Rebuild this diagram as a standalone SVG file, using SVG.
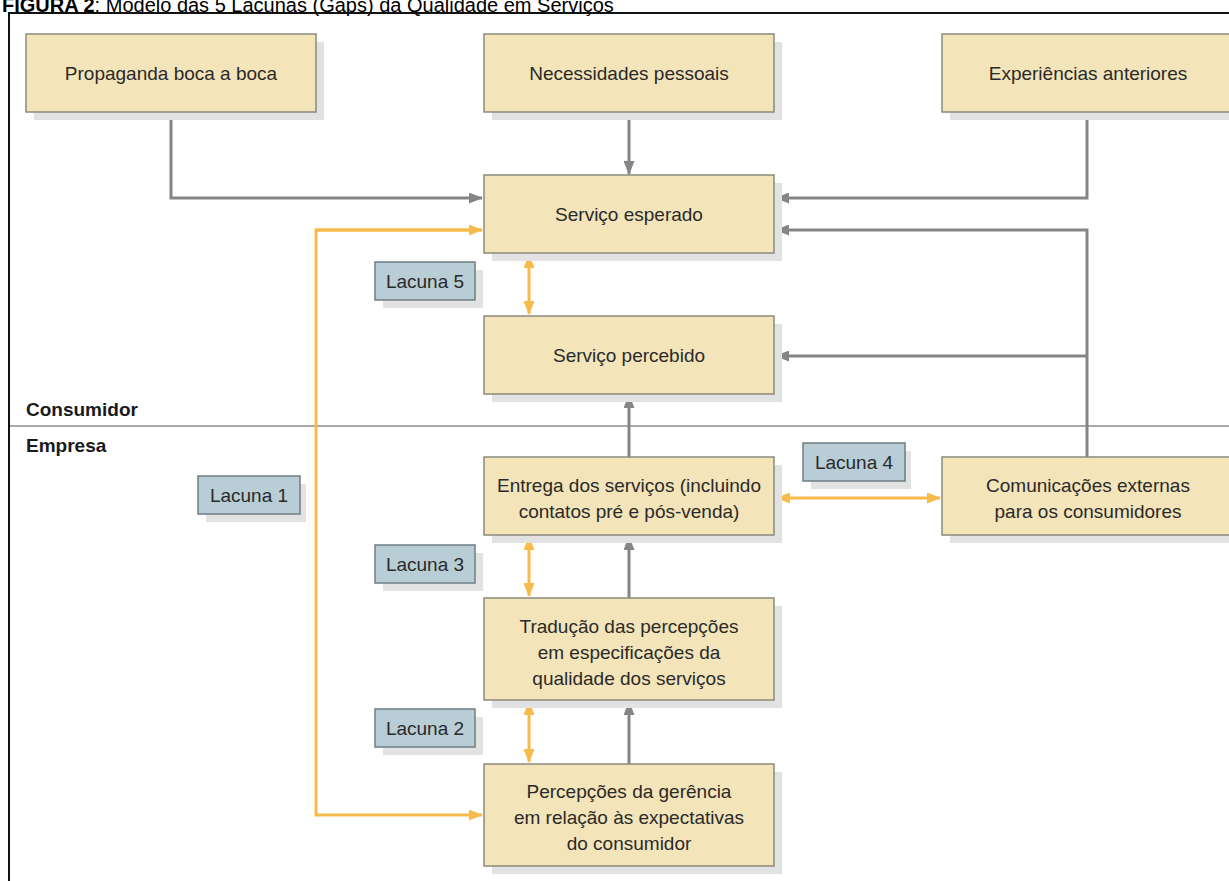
<svg xmlns="http://www.w3.org/2000/svg" width="1229" height="881" viewBox="0 0 1229 881">
<defs>
<style>
.box{fill:#f3e4b9;stroke:#8c8a7c;stroke-width:1.5}
.sh{fill:#e2e2e2}
.lac{fill:#b8cdd5;stroke:#6e7d82;stroke-width:1.5}
.t{font-family:"Liberation Sans",Arial,sans-serif;font-size:19px;fill:#2a2a2a;text-anchor:middle}
.sec{font-family:"Liberation Sans",Arial,sans-serif;font-size:19px;font-weight:bold;fill:#1a1a1a}
.g{fill:none;stroke:#858585;stroke-width:3}
.o{fill:none;stroke:#f9ba4c;stroke-width:3}
</style>
<marker id="ag" viewBox="0 0 14 11" refX="13" refY="5.5" markerWidth="14" markerHeight="11" markerUnits="userSpaceOnUse" orient="auto"><path d="M0,0 L14,5.5 L0,11 Z" fill="#858585"/></marker>
<marker id="ao" viewBox="0 0 14 11" refX="13" refY="5.5" markerWidth="14" markerHeight="11" markerUnits="userSpaceOnUse" orient="auto"><path d="M0,0 L14,5.5 L0,11 Z" fill="#f9ba4c"/></marker>
<marker id="aos" viewBox="0 0 14 11" refX="13" refY="5.5" markerWidth="14" markerHeight="11" markerUnits="userSpaceOnUse" orient="auto-start-reverse"><path d="M0,0 L14,5.5 L0,11 Z" fill="#f9ba4c"/></marker>
</defs>
<rect width="1229" height="881" fill="#ffffff"/>
<text x="2" y="12" font-family="Liberation Sans,Arial,sans-serif" font-size="20" fill="#000"><tspan font-weight="bold">FIGURA 2</tspan>: Modelo das 5 Lacunas (Gaps) da Qualidade em Serviços</text>
<path d="M9,890 V13 H1240" fill="none" stroke="#111" stroke-width="2"/>
<line x1="10" y1="426" x2="1229" y2="426" stroke="#a8a8a8" stroke-width="2"/>
<text class="sec" x="26" y="416">Consumidor</text>
<text class="sec" x="26" y="452">Empresa</text>
<g id="connectors">
<path class="g" d="M171,112 V198 H482" marker-end="url(#ag)"/>
<path class="g" d="M629,112 V174" marker-end="url(#ag)"/>
<path class="g" d="M1087,112 V198 H776" marker-end="url(#ag)"/>
<path class="g" d="M1087,457 V230 H776" marker-end="url(#ag)"/>
<path class="g" d="M1087,356 H776" marker-end="url(#ag)"/>
<path class="g" d="M629,457 V395" marker-end="url(#ag)"/>
<path class="g" d="M629,598 V537" marker-end="url(#ag)"/>
<path class="g" d="M629,764 V702" marker-end="url(#ag)"/>
<path class="o" d="M482,230 H316 V815 H482" marker-end="url(#ao)"/>
<path class="o" d="M316,230 H482" marker-end="url(#ao)"/>
<path class="o" d="M529,255 V314" marker-start="url(#aos)" marker-end="url(#ao)"/>
<path class="o" d="M529,537 V596" marker-start="url(#aos)" marker-end="url(#ao)"/>
<path class="o" d="M529,702 V762" marker-start="url(#aos)" marker-end="url(#ao)"/>
<path class="o" d="M777,498 H940" marker-start="url(#aos)" marker-end="url(#ao)"/>
</g>
<g id="n-propaganda"><rect class="sh" x="34" y="42" width="290" height="78"/><rect class="box" x="26" y="34" width="290" height="78"/><text class="t" x="171" y="80">Propaganda boca a boca</text></g>
<g id="n-necessidades"><rect class="sh" x="492" y="42" width="290" height="78"/><rect class="box" x="484" y="34" width="290" height="78"/><text class="t" x="629" y="80">Necessidades pessoais</text></g>
<g id="n-experiencias"><rect class="sh" x="950" y="42" width="290" height="78"/><rect class="box" x="942" y="34" width="292" height="78"/><text class="t" x="1088" y="80">Experiências anteriores</text></g>
<g id="n-esperado"><rect class="sh" x="492" y="183" width="290" height="78"/><rect class="box" x="484" y="175" width="290" height="78"/><text class="t" x="629" y="221">Serviço esperado</text></g>
<g id="n-percebido"><rect class="sh" x="492" y="324" width="290" height="78"/><rect class="box" x="484" y="316" width="290" height="78"/><text class="t" x="629" y="362">Serviço percebido</text></g>
<g id="n-entrega"><rect class="sh" x="492" y="465" width="290" height="78"/><rect class="box" x="484" y="457" width="290" height="78"/><text class="t" x="629" y="492">Entrega dos serviços (incluindo</text><text class="t" x="629" y="518">contatos pré e pós-venda)</text></g>
<g id="n-comunicacoes"><rect class="sh" x="950" y="465" width="290" height="78"/><rect class="box" x="942" y="457" width="292" height="78"/><text class="t" x="1088" y="492">Comunicações externas</text><text class="t" x="1088" y="518">para os consumidores</text></g>
<g id="n-traducao"><rect class="sh" x="492" y="606" width="290" height="102"/><rect class="box" x="484" y="598" width="290" height="102"/><text class="t" x="629" y="633">Tradução das percepções</text><text class="t" x="629" y="659">em especificações da</text><text class="t" x="629" y="685">qualidade dos serviços</text></g>
<g id="n-gerencia"><rect class="sh" x="492" y="772" width="290" height="102"/><rect class="box" x="484" y="764" width="290" height="102"/><text class="t" x="629" y="798">Percepções da gerência</text><text class="t" x="629" y="824">em relação às expectativas</text><text class="t" x="629" y="850">do consumidor</text></g>
<g id="lacuna-5"><rect class="sh" x="383" y="270" width="100" height="38"/><rect class="lac" x="375" y="262" width="100" height="38"/><text class="t" x="425" y="288">Lacuna 5</text></g>
<g id="lacuna-1"><rect class="sh" x="206" y="484" width="100" height="38"/><rect class="lac" x="198" y="476" width="102" height="38"/><text class="t" x="249" y="502">Lacuna 1</text></g>
<g id="lacuna-4"><rect class="sh" x="811" y="451" width="100" height="38"/><rect class="lac" x="803" y="443" width="102" height="38"/><text class="t" x="854" y="469">Lacuna 4</text></g>
<g id="lacuna-3"><rect class="sh" x="383" y="553" width="100" height="38"/><rect class="lac" x="375" y="545" width="100" height="38"/><text class="t" x="425" y="571">Lacuna 3</text></g>
<g id="lacuna-2"><rect class="sh" x="383" y="717" width="100" height="38"/><rect class="lac" x="375" y="709" width="100" height="38"/><text class="t" x="425" y="735">Lacuna 2</text></g>
</svg>
